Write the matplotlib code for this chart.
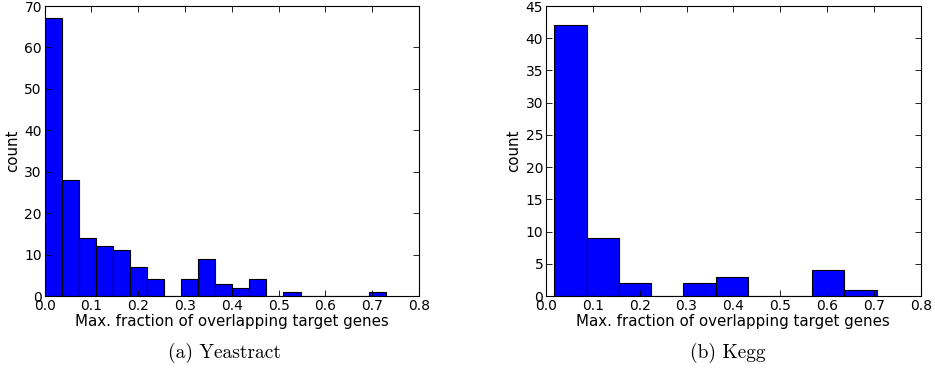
import matplotlib
matplotlib.use("Agg")
import matplotlib.pyplot as plt
import numpy as np

# Yeastract histogram (20 equal bins)
yeast_range = (0.0, 0.729)
yeast_nbins = 20
yeast_counts = [67, 28, 14, 12, 11, 7, 4, 0, 4, 9, 3, 2, 4, 0, 1, 0, 0, 0, 0, 1]

# Kegg histogram (10 equal bins)
kegg_range = (0.0178, 0.706)
kegg_nbins = 10
kegg_counts = [42, 9, 2, 0, 2, 3, 0, 0, 4, 1]

xlabel = "Max. fraction of overlapping target genes"
ylabel = "count"
captions = ["(a) Yeastract", "(b) Kegg"]
xticks = [0.0, 0.1, 0.2, 0.3, 0.4, 0.5, 0.6, 0.7, 0.8]
yticks_left = [0, 10, 20, 30, 40, 50, 60, 70]
yticks_right = [0, 5, 10, 15, 20, 25, 30, 35, 40, 45]

fig = plt.figure(figsize=(9.35, 3.72), dpi=100)
W, H = 935, 372

def make_ax(x0, x1, y0, y1):
    return fig.add_axes([x0 / W, 1 - y1 / H, (x1 - x0) / W, (y1 - y0) / H])

axes = [make_ax(44.7, 419, 6, 296), make_ax(546, 920.7, 6, 296)]
datasets = [(yeast_range, yeast_nbins, yeast_counts, yticks_left, 70),
            (kegg_range, kegg_nbins, kegg_counts, yticks_right, 45)]

for ax, (rng, nb, counts, yt, ymax) in zip(axes, datasets):
    edges = np.linspace(rng[0], rng[1], nb + 1)
    ax.hist(edges[:-1], bins=edges, weights=counts, color="#0000ff",
            edgecolor="black", linewidth=0.8)
    ax.set_xlim(0, 0.8)
    ax.set_ylim(0, ymax)
    ax.set_xticks(xticks)
    ax.set_xticklabels([f"{t:.1f}" for t in xticks])
    ax.set_yticks(yt)
    ax.tick_params(direction="in", top=True, right=True, length=4,
                   width=0.6, labelsize=10, pad=2)
    for s in ax.spines.values():
        s.set_linewidth(0.8)
    ax.set_xlabel(xlabel, fontsize=10.8, labelpad=1)
    ax.set_ylabel(ylabel, fontsize=10.8, labelpad=3)

fig.text(225 / W, 1 - 353 / H, captions[0], ha="center", va="center",
         family="cmr10", fontsize=14)
fig.text(728 / W, 1 - 353 / H, captions[1], ha="center", va="center",
         family="cmr10", fontsize=14)

fig.savefig("out.png", dpi=100)
